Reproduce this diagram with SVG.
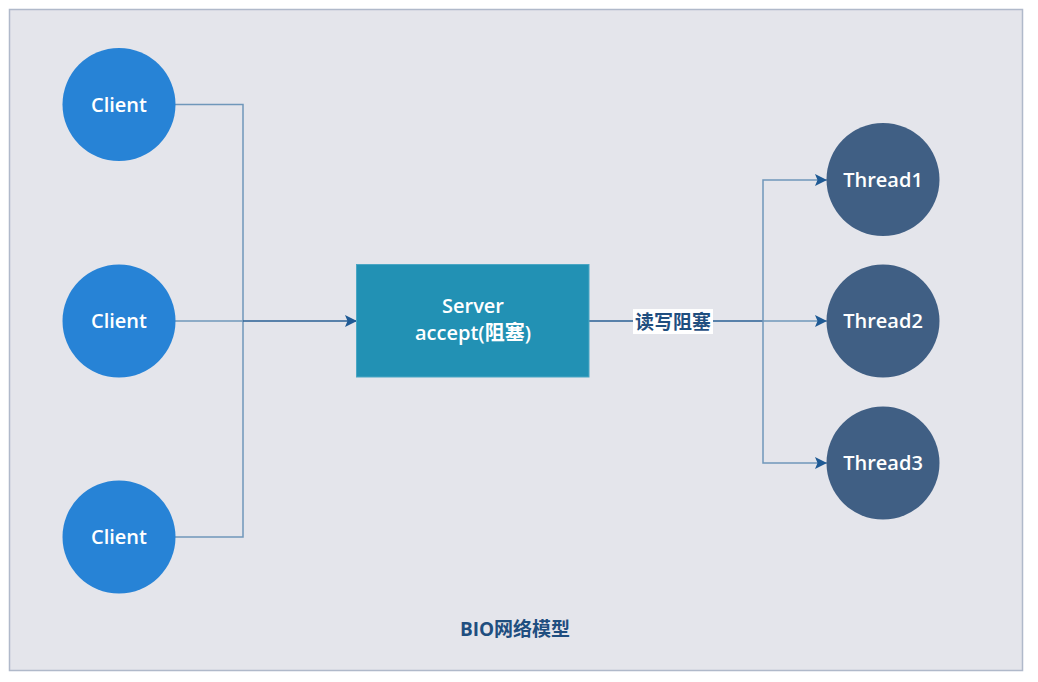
<svg xmlns="http://www.w3.org/2000/svg" width="1038" height="682" viewBox="0 0 1038 682">
<style>
.lbl{font-family:"Open Sans","Noto Sans CJK SC",sans-serif;fill:#ffffff;font-size:20px;font-weight:600;text-anchor:middle}
.client{fill:#2783d6}
.thread{fill:#405f84}
.lt{stroke:#6f97ba;stroke-width:1.5;fill:none}
.dk{stroke:#2a5f94;stroke-width:1.5;fill:none}
</style>
<defs>
<marker id="arr" viewBox="0 0 12 12" refX="12" refY="6" markerWidth="12" markerHeight="12" markerUnits="userSpaceOnUse" orient="auto">
<path d="M0,0 L12,6 L0,12 L2.5,6 Z" fill="#1f5a94"/>
</marker>
</defs>
<rect id="frame" x="9.5" y="9.5" width="1013" height="661" fill="#e4e5eb" stroke="#b0b9ca" stroke-width="1.5"/>
<g id="connectors">
<path class="lt" d="M175,104.5 H243 V321"/>
<path class="lt" d="M175,537 H243 V321"/>
<path class="lt" d="M175,321 H243"/>
<path class="dk" d="M243,321 H357" marker-end="url(#arr)"/>
<path class="dk" d="M589,321 H763"/>
<path class="lt" d="M763,321 V180 H827" marker-end="url(#arr)"/>
<path class="lt" d="M763,321 H827" marker-end="url(#arr)"/>
<path class="lt" d="M763,321 V463 H827" marker-end="url(#arr)"/>
<rect x="633" y="309" width="80" height="25" fill="#ffffff"/>
<text x="673" y="328.5" font-family="'Noto Sans CJK SC',sans-serif" font-size="19" font-weight="bold" fill="#1f4e7f" text-anchor="middle">读写阻塞</text>
</g>
<g id="client1"><circle class="client" cx="119" cy="104.5" r="56.5"/><text class="lbl" x="119" y="111.5">Client</text></g>
<g id="client2"><circle class="client" cx="119" cy="321" r="56.5"/><text class="lbl" x="119" y="328">Client</text></g>
<g id="client3"><circle class="client" cx="119" cy="537" r="56.5"/><text class="lbl" x="119" y="544">Client</text></g>
<g id="server">
<rect x="356.5" y="264.5" width="232.5" height="112.5" fill="#2291b4" stroke="#4aa6c4" stroke-width="1"/>
<text class="lbl" x="473" y="313">Server</text>
<text class="lbl" x="473" y="340">accept(阻塞)</text>
</g>
<g id="thread1"><circle class="thread" cx="883" cy="179.5" r="56.5"/><text class="lbl" x="883" y="186.5">Thread1</text></g>
<g id="thread2"><circle class="thread" cx="883" cy="321" r="56.5"/><text class="lbl" x="883" y="328">Thread2</text></g>
<g id="thread3"><circle class="thread" cx="883" cy="463" r="56.5"/><text class="lbl" x="883" y="470">Thread3</text></g>
<g id="title"><text x="515" y="636" font-family="'Open Sans','Noto Sans CJK SC',sans-serif" font-size="19" font-weight="bold" fill="#1f4e7f" text-anchor="middle">BIO网络模型</text></g>
</svg>
